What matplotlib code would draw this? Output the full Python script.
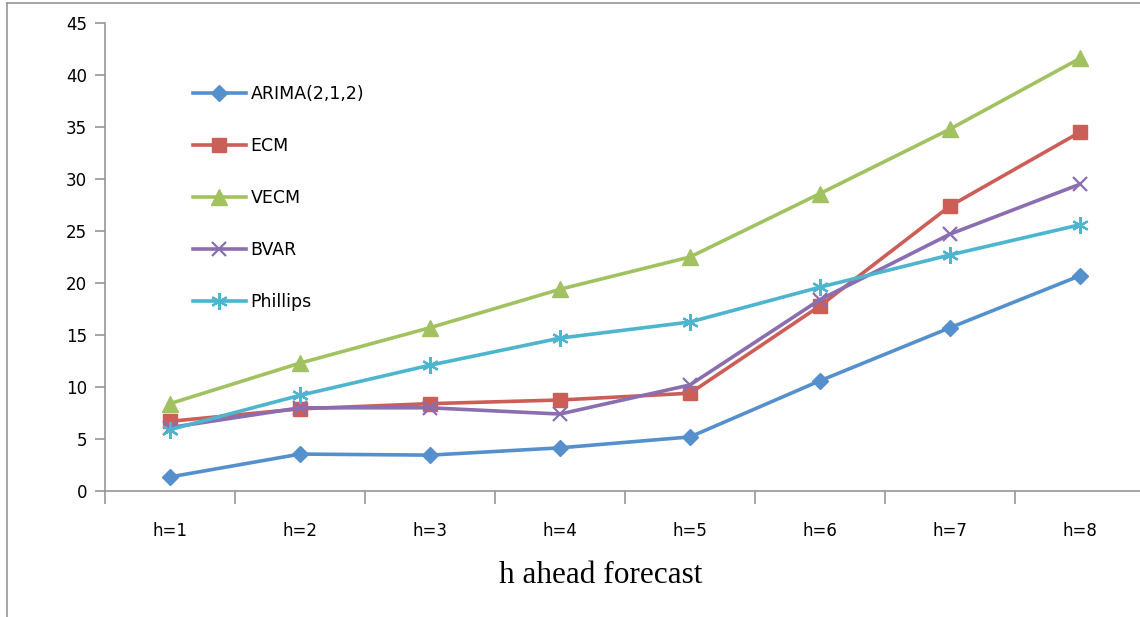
import matplotlib.pyplot as plt
from matplotlib.lines import Line2D

# h-ahead forecast data
horizons = ['h=1', 'h=2', 'h=3', 'h=4', 'h=5', 'h=6', 'h=7', 'h=8']
arima = [1.35, 3.55, 3.45, 4.15, 5.2, 10.6, 15.7, 20.7]
ecm = [6.7, 7.9, 8.4, 8.75, 9.4, 17.8, 27.4, 34.5]
vecm = [8.4, 12.3, 15.7, 19.4, 22.5, 28.6, 34.8, 41.6]
bvar = [6.1, 8.0, 8.0, 7.4, 10.2, 18.4, 24.7, 29.5]
phillips = [5.9, 9.2, 12.1, 14.7, 16.25, 19.6, 22.7, 25.6]

fig = plt.figure(figsize=(11.4, 6.17), dpi=100)
ax = fig.add_axes([105 / 1140, (617 - 491) / 617, 1040 / 1140, 468 / 617])

x = range(len(horizons))
ax.plot(x, arima, color='#5690CC', lw=2.6, marker='D', ms=8, label='ARIMA(2,1,2)')
ax.plot(x, ecm, color='#CC5E58', lw=2.6, marker='s', ms=10, label='ECM')
ax.plot(x, vecm, color='#A2C262', lw=2.6, marker='^', ms=11, label='VECM')
ax.plot(x, bvar, color='#8A6EB0', lw=2.6, marker='x', ms=10, mew=1.6, label='BVAR')
ax.plot(x, phillips, color='#4DB5CE', lw=2.6, marker=(6, 2, 0), ms=12, mew=1.6, label='Phillips')

ax.set_ylim(0, 45)
ax.set_yticks(range(0, 46, 5))
ax.set_xlim(-0.5, len(horizons) - 0.5)
ax.set_xticks([i - 0.5 for i in range(len(horizons) + 1)])
ax.set_xticklabels([])
ax.set_xticks(list(x), minor=True)
ax.set_xticklabels(horizons, minor=True)
ax.tick_params(axis='x', which='major', length=9, color='#969696', width=1.2)
ax.tick_params(axis='x', which='minor', length=0, pad=22, labelsize=12)
ax.tick_params(axis='y', length=7, color='#969696', width=1.2, labelsize=12, pad=6)

for s in ['top', 'right']:
    ax.spines[s].set_visible(False)
for s in ['left', 'bottom']:
    ax.spines[s].set_color('#969696')
    ax.spines[s].set_linewidth(1.2)

ax.set_xlabel('h ahead forecast', family='Liberation Serif', fontsize=22.5)
ax.xaxis.set_label_coords((601 - 105) / 1040, -(561 - 491) / 468)

ax.legend(loc='upper left', bbox_to_anchor=(0.07, 0.9), frameon=False,
          fontsize=12.5, handlelength=3.0, labelspacing=1.95, handletextpad=0.3)

# outer frame of the pasted chart
fig.add_artist(Line2D([7 / 1140, 7 / 1140], [0, 1 - 3 / 617], color='#969696', lw=1.2))
fig.add_artist(Line2D([7 / 1140, 1], [1 - 3 / 617, 1 - 3 / 617], color='#969696', lw=1.2))

fig.savefig('out.png', dpi=100)
